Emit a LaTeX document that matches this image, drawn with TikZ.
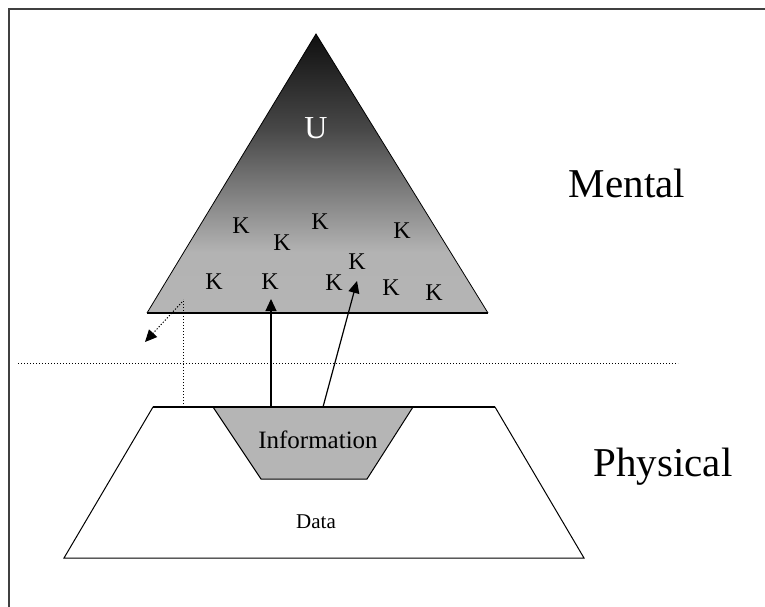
\documentclass[tikz,border=0pt]{standalone}
\usepackage{fontspec}
\setmainfont{Liberation Serif}
\usetikzlibrary{arrows.meta}

% vertical shading for the knowledge triangle: dark apex fading to grey
\pgfdeclareverticalshading{apexfade}{100bp}{%
  color(0bp)=(black!29); color(25bp)=(black!29); color(36bp)=(black!30);
  color(58bp)=(black!72); color(75bp)=(black!94); color(100bp)=(black!94)}

\tikzset{
  outline/.style={draw=black, line width=1pt},
  infofill/.style={fill=black!29},
  klabel/.style={font=\fontsize{24}{24}\selectfont, inner sep=0pt},
  bigword/.style={font=\fontsize{41}{41}\selectfont, inner sep=0pt},
  flowarrow/.style={draw=black, line width=1.2pt, -{Triangle[length=12pt,width=11pt]}},
  dotline/.style={draw=black, line width=1pt, dash pattern=on 1.2pt off 1.8pt},
}

\begin{document}
\begin{tikzpicture}[x=1pt,y=1pt]
\useasboundingbox (0,0) rectangle (765,606);
\fill[white] (0,0) rectangle (765,606);

% open frame: left and top edges only
\draw[black!75, line width=2pt] (9,-5) -- (9,597) -- (770,597);

% knowledge triangle
\coordinate (apex) at (316,572);
\coordinate (tl) at (147,293);
\coordinate (tr) at (488,293);
\shade[shading=apexfade] (apex) -- (tr) -- (tl) -- cycle;
\draw[black, line width=0.8pt] (tl) -- (apex) -- (tr);
\draw[black, line width=1.6pt] (tl) -- (tr);

% boundary between mental and physical
\coordinate (sepL) at (18,243);
\coordinate (sepR) at (678,243);
\draw[dotline] (sepL) -- (sepR);

% data trapezoid
\coordinate (d1) at (153,199);
\coordinate (d2) at (495,199);
\coordinate (d3) at (584,48);
\coordinate (d4) at (64,48);
\draw[outline, fill=white] (d1) -- (d2) -- (d3) -- (d4) -- cycle;
\draw[black, line width=1.4pt] (d1) -- (d2);

% information trapezoid
\coordinate (i1) at (213,199);
\coordinate (i2) at (413,199);
\coordinate (i3) at (367,127);
\coordinate (i4) at (261,127);
\draw[outline, infofill] (i1) -- (i2) -- (i3) -- (i4) -- cycle;
\draw[black, line width=1.4pt] (i1) -- (i2);

% texts
\node[font=\fontsize{32}{32}\selectfont, text=white, inner sep=0pt] (u) at (316,478) {U};
\node[klabel] (k1) at (241,380) {K};
\node[klabel] (k2) at (282,363) {K};
\node[klabel] (k3) at (320,384) {K};
\node[klabel] (k4) at (402,375) {K};
\node[klabel] (k5) at (214,324) {K};
\node[klabel] (k6) at (270,324) {K};
\node[klabel] (k7) at (334,323) {K};
\node[klabel] (k8) at (357,344) {K};
\node[klabel] (k9) at (391,318) {K};
\node[klabel] (k10) at (434,313) {K};
\node[bigword] (mental) at (627,423) {Mental};
\node[bigword] (physical) at (663,139) {Physical};
\node[font=\fontsize{25}{25}\selectfont, inner sep=0pt] (info) at (318,166) {Information};
\node[font=\fontsize{21}{21}\selectfont, inner sep=0pt] (data) at (316,84) {Data};

% connectors between the layers
\coordinate (a1s) at (271,199);
\coordinate (a1e) at (271,307);
\draw[flowarrow] (a1s) -- (a1e);
\coordinate (a2s) at (323,199);
\coordinate (a2e) at (357,325);
\draw[flowarrow] (a2s) -- (a2e);
\coordinate (dvs) at (183,199);
\coordinate (dve) at (183,307);
\draw[dotline] (dvs) -- (dve);
\coordinate (dds) at (182,304);
\coordinate (dde) at (145,264);
\draw[dotline, -{Triangle[length=12pt,width=11pt]}] (dds) -- (dde);
\end{tikzpicture}
\end{document}
